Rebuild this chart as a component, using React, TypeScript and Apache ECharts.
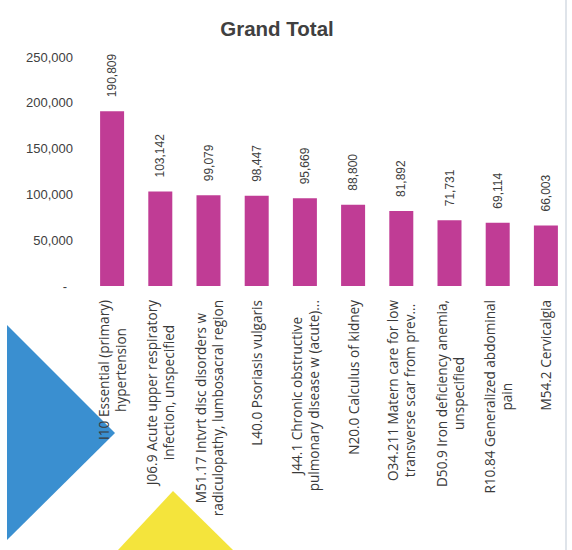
import React, { useEffect, useRef } from "react";
import * as echarts from "echarts";

const title = "Grand Total";
const categories = [
  "I10 Essential (primary)\nhypertension",
  "J06.9 Acute upper respiratory\ninfection, unspecified",
  "M51.17 Intvrt disc disorders w\nradiculopathy, lumbosacral region",
  "L40.0 Psoriasis vulgaris",
  "J44.1 Chronic obstructive\npulmonary disease w (acute)...",
  "N20.0 Calculus of kidney",
  "O34.211 Matern care for low\ntransverse scar from prev...",
  "D50.9 Iron deficiency anemia,\nunspecified",
  "R10.84 Generalized abdominal\npain",
  "M54.2 Cervicalgia",
];
const values = [190809, 103142, 99079, 98447, 95669, 88800, 81892, 71731, 69114, 66003];
const yTicks = [0, 50000, 100000, 150000, 200000, 250000];

const fmt = (v: number) => v.toLocaleString("en-US");

export default function App() {
  const ref = useRef<HTMLDivElement>(null);
  useEffect(() => {
    if (!ref.current) return;
    const chart = echarts.init(ref.current, null, { renderer: "svg" });
    chart.setOption({
      animation: false,
      backgroundColor: "#ffffff",
      title: {
        text: title,
        left: 272,
        textAlign: "center",
        top: 13,
        textStyle: { fontFamily: "Liberation Sans", fontWeight: "bold", fontSize: 20.5, color: "#404040" },
      },
      graphic: [
        {
          type: "polygon",
          z: -10,
          shape: { points: [[7, 325], [115, 433], [7, 540]] },
          style: { fill: "#3a8fd0" },
        },
        {
          type: "polygon",
          z: -10,
          shape: { points: [[118, 550], [173, 491], [233, 550]] },
          style: { fill: "#f4e43c" },
        },
        {
          type: "line",
          z: -10,
          shape: { x1: 566, y1: 0, x2: 566, y2: 550 },
          style: { stroke: "#dfe4ea", lineWidth: 2 },
        },
      ],
      grid: { left: 88, right: 2, top: 57, bottom: 264, containLabel: false },
      xAxis: {
        type: "category",
        data: categories,
        axisLine: { show: false },
        axisTick: { show: false },
        axisLabel: {
          interval: 0,
          rotate: 90,
          margin: 14,
          color: "#3a3a3a",
          fontFamily: "Open Sans",
          fontSize: 13.6,
          lineHeight: 17,
          formatter: (v: string) =>
            v
              .split("\n")
              .map((l) => `{c|${l}}`)
              .join("\n"),
          rich: { c: { align: "center", fontFamily: "Open Sans", fontSize: 13.6, lineHeight: 17, color: "#3a3a3a" } },
        },
      },
      yAxis: {
        type: "value",
        min: yTicks[0],
        max: yTicks[yTicks.length - 1],
        interval: 50000,
        axisLine: { show: false },
        axisTick: { show: false },
        splitLine: { show: false },
        axisLabel: {
          margin: 15,
          color: "#404040",
          fontFamily: "Liberation Sans",
          fontSize: 13,
          formatter: (v: number) => (v === 0 ? "{z|-}" : fmt(v)),
          rich: { z: { padding: [0, 6, 0, 0], fontFamily: "Liberation Sans", fontSize: 13, color: "#404040" } },
        },
      },
      series: [
        {
          type: "bar",
          data: values,
          barWidth: 24,
          itemStyle: { color: "#c03c95" },
          label: {
            show: true,
            position: "top",
            rotate: 90,
            align: "left",
            verticalAlign: "middle",
            distance: 14,
            color: "#404040",
            fontFamily: "Liberation Sans",
            fontSize: 12,
            formatter: (p: any) => fmt(p.value),
          },
        },
      ],
    });
    return () => chart.dispose();
  }, []);
  return (
    <div
      ref={ref}
      style={{ position: "fixed", left: 0, top: 0, width: 572, height: 550 }}
    />
  );
}
